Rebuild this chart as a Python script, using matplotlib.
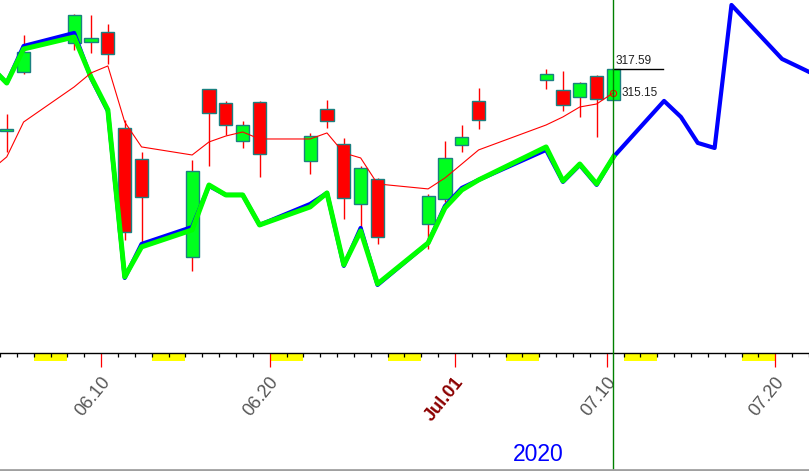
import datetime as dt

import matplotlib.pyplot as plt
import matplotlib.dates as mdates
from matplotlib.lines import Line2D
from matplotlib.patches import Rectangle

# SPY daily candles, June - July 2020
trade_days = ['2020-06-04', '2020-06-05', '2020-06-08', '2020-06-09', '2020-06-10',
              '2020-06-11', '2020-06-12', '2020-06-15', '2020-06-16', '2020-06-17',
              '2020-06-18', '2020-06-19', '2020-06-22', '2020-06-23', '2020-06-24',
              '2020-06-25', '2020-06-26', '2020-06-29', '2020-06-30', '2020-07-01',
              '2020-07-02', '2020-07-06', '2020-07-07', '2020-07-08', '2020-07-09',
              '2020-07-10']
opens = [311.16, 317.31, 320.34, 320.44, 321.48, 311.47, 308.24, 298.01, 315.54, 314.08,
         310.11, 314.18, 308.03, 313.45, 309.80, 303.54, 306.15, 301.46, 304.06, 309.70,
         314.29, 316.48, 315.43, 314.70, 316.89, 314.39]
highs = [312.93, 321.17, 323.36, 323.26, 322.32, 312.30, 308.97, 308.13, 315.54, 314.29,
         312.20, 314.29, 310.95, 314.39, 310.43, 307.50, 306.25, 304.59, 310.11, 311.78,
         315.64, 317.62, 317.41, 316.27, 316.99, 317.62]
lows = [308.97, 317.10, 319.61, 319.29, 318.14, 299.79, 299.37, 296.55, 307.50, 310.74,
        309.38, 306.36, 306.67, 311.47, 301.98, 301.04, 299.37, 298.85, 303.75, 308.97,
        311.37, 315.54, 313.24, 312.62, 310.53, 314.39]
closes = [311.31, 319.40, 323.26, 320.86, 319.19, 300.62, 304.27, 306.98, 313.03, 311.78,
          311.78, 308.76, 310.64, 312.20, 304.17, 307.30, 300.10, 304.38, 308.34, 310.53,
          312.30, 317.10, 313.87, 316.16, 314.49, 317.59]

# lines start one session earlier (off the left edge)
line_days = ['2020-06-03'] + trade_days
ma_vals = [306.98, 308.45, 312.09, 315.75, 317.21, 317.94, 312.09, 309.49, 308.65, 310.01,
           310.63, 311.05, 310.32, 310.32, 310.95, 308.86, 308.34, 305.63, 305.11, 306.25,
           307.71, 309.18, 311.78, 312.62, 313.66, 313.97, 315.15]
green_vals = [317.94, 316.16, 319.71, 320.96, 316.79, 313.35, 295.93, 299.06, 300.83, 305.52,
              304.48, 304.48, 301.35, 303.23, 304.69, 297.18, 300.73, 295.20, 299.47, 303.13,
              305.00, 306.05, 309.49, 305.94, 307.71, 305.63, 308.45]
blue_vals = [317.94, 316.16, 320.02, 321.38, 316.68, 313.24, 295.82, 299.37, 301.14, 305.42,
             304.48, 304.48, 301.35, 303.54, 304.69, 297.08, 301.04, 295.09, 299.47, 303.33,
             305.21, 306.05, 309.18, 305.84, 307.61, 305.53, 308.45]
future_days = ['2020-07-13', '2020-07-14', '2020-07-15', '2020-07-16', '2020-07-17',
               '2020-07-20', '2020-07-21', '2020-07-22']
blue_future = [314.29, 312.62, 309.91, 309.38, 324.30, 318.67, 317.83, 316.98]

tick_days = ['2020-06-10', '2020-06-20', '2020-07-01', '2020-07-10', '2020-07-20']
tick_labels = ['06.10', '06.20', 'Jul.01', '07.10', '07.20']

last_close = 317.59
last_ma = 315.15


def num(d):
    return mdates.date2num(dt.datetime.strptime(d, '%Y-%m-%d'))


OFF = 0.4  # candles sit a bit right of the day tick
cx = [num(d) + OFF for d in trade_days]
lx = [num(d) + OFF for d in line_days]
fx = [num(d) + OFF for d in future_days]

plt.rcParams['font.family'] = ['Liberation Sans', 'DejaVu Sans']

fig = plt.figure(figsize=(8.09, 4.71), dpi=100)
ax = fig.add_axes([0, 0.2501, 1, 0.7499])

base = num('2020-06-10')
ax.set_xlim(base - 5.9, base + 41.69)
ax.set_ylim(287.97, 324.82)

# candles
for x, o, h, l, c in zip(cx, opens, highs, lows, closes):
    ax.vlines(x, l, h, color='red', lw=1.0, zorder=2)
    col = '#00ff1e' if c >= o else '#ff0000'
    ax.bar(x, abs(c - o), bottom=min(o, c), width=0.78, color=col,
           edgecolor='#1a8080', linewidth=1.0, zorder=3)

# lines
ax.plot(lx + fx, blue_vals + blue_future, color='#0000ff', lw=3.0, zorder=4)
ax.plot(lx, green_vals, color='#00ff00', lw=3.6, zorder=5)
ax.plot(lx, ma_vals, color='#ff0000', lw=0.8, zorder=6)
ax.plot(cx[-1], last_ma, 'o', mfc='none', mec='#ff0000', ms=4.5, mew=0.8, zorder=7)

# last price marks
day_px = 17.0
ax.plot([cx[-1], cx[-1] + 50 / day_px], [last_close, last_close], color='black', lw=1.0, zorder=7)
ax.text(cx[-1] + 2 / day_px, last_close + 0.25, f'{last_close:.2f}', fontsize=8.5,
        ha='left', va='bottom', color='#202020', zorder=8)
ax.text(cx[-1] + 8 / day_px, last_ma, f'{last_ma:.2f}', fontsize=8.5,
        ha='left', va='center', color='#202020', zorder=8)

# cursor line
ax.plot([cx[-1], cx[-1]], [-0.333, 1], transform=ax.get_xaxis_transform(),
        color='#008000', lw=1.0, clip_on=False, zorder=9)

# axis styling
for s in ['top', 'left', 'right']:
    ax.spines[s].set_visible(False)
ax.spines['bottom'].set_linewidth(1.0)
ax.set_yticks([])

ax.set_xticks([num(d) for d in tick_days])
ax.set_xticklabels([])
ax.set_xticks([base + i for i in range(-6, 43)], minor=True)
ax.tick_params(axis='x', which='major', length=10.4, width=0.9, color='red')
ax.tick_params(axis='x', which='minor', length=3.2, width=0.9, color='black')

# weekend bars
trans = ax.get_xaxis_transform()
start = dt.date(2020, 6, 6)
for k in range(7):
    d = start + dt.timedelta(days=7 * k)
    x0 = mdates.date2num(d)
    ax.add_patch(Rectangle((x0, -0.0226), 2, 0.0226, transform=trans,
                           facecolor='#ffff00', edgecolor='none', clip_on=False, zorder=1))

# date labels
for d, lab in zip(tick_days, tick_labels):
    bold = lab.startswith('Jul')
    ax.text(num(d) + 6 / day_px, -0.074, lab, transform=trans, rotation=51,
            rotation_mode='anchor', ha='right', va='center', fontsize=13,
            color='#8b0000' if bold else '#555555',
            fontweight='bold' if bold else 'normal')

fig.text(0.6656, 0.034, '2020', color='#0000ff', fontsize=16.5, ha='center', va='center')
fig.add_artist(Line2D([0, 1], [0.003, 0.003], transform=fig.transFigure,
                      color='#a0a0a0', lw=2.0))

fig.savefig('out.png', dpi=100)
